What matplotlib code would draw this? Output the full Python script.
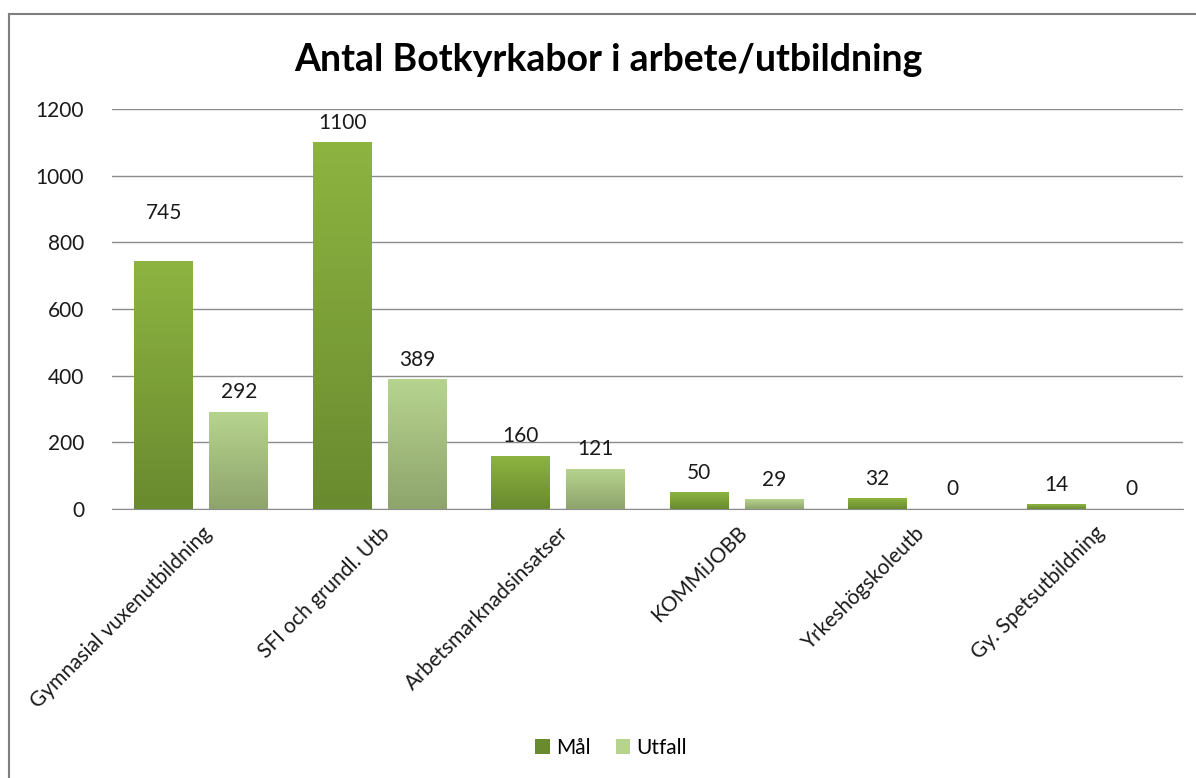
import numpy as np
import matplotlib.pyplot as plt
from matplotlib.lines import Line2D
from matplotlib.patches import Patch

# data
categories = ['Gymnasial vuxenutbildning', 'SFI och grundl. Utb', 'Arbetsmarknadsinsatser',
              'KOMMiJOBB', 'Yrkeshögskoleutb', 'Gy. Spetsutbildning']
mal = [745, 1100, 160, 50, 32, 14]
utfall = [292, 389, 121, 29, 0, 0]
series_names = ['Mål', 'Utfall']
yticks = [0, 200, 400, 600, 800, 1000, 1200]

plt.rcParams['font.family'] = ['Lato', 'DejaVu Sans']

fig = plt.figure(figsize=(11.96, 7.78), dpi=100)
ax = fig.add_axes([112 / 1196, 1 - 509 / 778, (1183 - 112) / 1196, 400 / 778])

x = np.arange(len(categories))
width = 0.33
offset = 0.21

# gradient colours (top, bottom)
mal_cols = ('#8db441', '#6a8a2f')
utf_cols = ('#b7d48f', '#8ea46c')


def gradient_bars(bars, top, bottom):
    c1 = np.array(plt.matplotlib.colors.to_rgb(top))
    c2 = np.array(plt.matplotlib.colors.to_rgb(bottom))
    t = np.linspace(0, 1, 100)[:, None]
    img = (c1 * (1 - t) + c2 * t)[:, None, :]
    for b in bars:
        h = b.get_height()
        if h <= 0:
            continue
        x0 = b.get_x()
        im = ax.imshow(img, extent=[x0, x0 + b.get_width(), 0, h], aspect='auto',
                       origin='upper', zorder=3)
        im.set_clip_path(b)


b1 = ax.bar(x - offset, mal, width, color=mal_cols[1], zorder=2, label=series_names[0])
b2 = ax.bar(x + offset, utfall, width, color=utf_cols[1], zorder=2, label=series_names[1])
gradient_bars(b1, *mal_cols)
gradient_bars(b2, *utf_cols)

# data labels
for i, v in enumerate(mal):
    extra = 27 if i == 0 else 7
    ax.annotate(str(v), (x[i] - offset, v), xytext=(0, extra), textcoords='offset points',
                ha='center', va='bottom', fontsize=15, color='#1a1a1a')
for i, v in enumerate(utfall):
    ax.annotate(str(v), (x[i] + offset, v), xytext=(0, 7), textcoords='offset points',
                ha='center', va='bottom', fontsize=15, color='#1a1a1a')

ax.set_xlim(-0.5, len(categories) - 0.5)
ax.set_ylim(0, 1200)
ax.set_yticks(yticks)
ax.yaxis.grid(True, color='#8c8c8c', linewidth=1)
ax.set_axisbelow(True)
for s in ['top', 'right', 'left']:
    ax.spines[s].set_visible(False)
ax.spines['bottom'].set_color('#8c8c8c')
ax.tick_params(axis='both', length=0, labelsize=15, colors='#1a1a1a')
ax.tick_params(axis='y', pad=20)
ax.set_xticks(x)
ax.set_xticklabels(categories, rotation=45, ha='right', rotation_mode='anchor')
ax.tick_params(axis='x', pad=10)

fig.text(608 / 1196, 1 - 60 / 778, 'Antal Botkyrkabor i arbete/utbildning',
         ha='center', va='center', fontsize=27, fontweight='bold')

handles = [Patch(facecolor=mal_cols[1]), Patch(facecolor=utf_cols[0])]
fig.legend(handles, series_names, loc='center', bbox_to_anchor=(611 / 1196, 1 - 748 / 778),
           ncol=2, frameon=False, fontsize=15, handlelength=0.7, handleheight=0.7,
           handletextpad=0.3, columnspacing=1.2)

# chart border (left and top visible)
fig.add_artist(Line2D([9 / 1196, 9 / 1196], [0, 1 - 14 / 778], color='#7f7f7f', lw=1.5))
fig.add_artist(Line2D([9 / 1196, 1], [1 - 14 / 778, 1 - 14 / 778], color='#7f7f7f', lw=1.5))

fig.savefig('out.png', dpi=100)
